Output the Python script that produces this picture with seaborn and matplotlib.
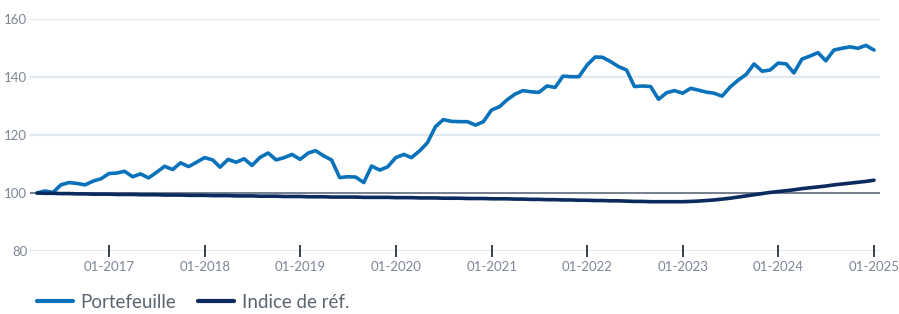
import matplotlib
matplotlib.use("Agg")
import matplotlib.pyplot as plt
import matplotlib.dates as mdates
import numpy as np
import pandas as pd
import seaborn as sns

# monthly values, Mar 2016 -> Dec 2024 (month ends)
dates = pd.date_range("2016-03-01", periods=106, freq="MS") + pd.offsets.MonthEnd(0)

portefeuille = [
    100.0, 100.7, 100.2, 102.8, 103.6, 103.3, 102.8, 104.1, 104.9, 106.7,
    106.9, 107.5, 105.6, 106.6, 105.2, 107.1, 109.2, 108.1, 110.4, 109.1,
    110.6, 112.2, 111.4, 108.9, 111.6, 110.6, 111.8, 109.5, 112.3, 113.8,
    111.4, 112.2, 113.3, 111.6, 113.8, 114.6, 112.8, 111.4, 105.3, 105.6,
    105.5, 103.6, 109.3, 107.9, 109.0, 112.2, 113.3, 112.2, 114.5, 117.3,
    122.9, 125.3, 124.7, 124.6, 124.6, 123.4, 124.6, 128.6, 129.8, 132.1,
    134.1, 135.3, 134.9, 134.7, 136.9, 136.4, 140.3, 140.1, 140.1, 144.1,
    146.9, 146.8, 145.3, 143.6, 142.4, 136.7, 136.9, 136.7, 132.3, 134.6,
    135.3, 134.4, 136.1, 135.5, 134.8, 134.4, 133.4, 136.5, 138.9, 140.9,
    144.5, 142.0, 142.4, 144.8, 144.5, 141.4, 146.2, 147.2, 148.4, 145.6,
    149.3, 149.9, 150.4, 149.9, 150.9, 149.3,
]

indice = [
    100.0, 99.9, 99.9, 99.8, 99.8, 99.7, 99.7, 99.6, 99.6, 99.6,
    99.5, 99.5, 99.5, 99.4, 99.4, 99.4, 99.3, 99.3, 99.3, 99.2, 99.2, 99.2,
    99.1, 99.1, 99.1, 99.0, 99.0, 99.0, 98.9, 98.9, 98.9, 98.8, 98.8, 98.8,
    98.7, 98.7, 98.7, 98.6, 98.6, 98.6, 98.6, 98.5, 98.5, 98.5, 98.5, 98.4,
    98.4, 98.4, 98.3, 98.3, 98.3, 98.2, 98.2, 98.2, 98.1, 98.1, 98.1, 98.0,
    98.0, 98.0, 97.9, 97.9, 97.8, 97.8, 97.7, 97.7, 97.6, 97.6, 97.5, 97.5,
    97.4, 97.4, 97.3, 97.3, 97.2, 97.1, 97.1, 97.0, 97.0, 97.0, 97.0, 97.0,
    97.1, 97.2, 97.4, 97.6, 97.9, 98.2, 98.6, 99.0, 99.4, 99.8, 100.2, 100.5,
    100.8, 101.1, 101.5, 101.8, 102.1, 102.4, 102.8, 103.1, 103.4, 103.7, 104.0, 104.4,
]

series_names = ["Portefeuille", "Indice de réf."]
colors = ["#0a72bb", "#0b2a5e"]
yticks = [80, 100, 120, 140, 160]
tick_years = list(range(2017, 2026))

df = pd.DataFrame({"date": list(dates) * 2,
                   "valeur": portefeuille + indice,
                   "serie": [series_names[0]] * len(dates) + [series_names[1]] * len(dates)})

sns.set_theme(style="white")
plt.rcParams["font.family"] = ["Lato", "DejaVu Sans"]

fig = plt.figure(figsize=(8.99, 3.14), dpi=100)
ax = fig.add_axes([30 / 899, (314 - 251) / 314, 850 / 899, 232 / 314])

for y in yticks:
    ax.axhline(y, color="#e0e8f0", lw=1.6, zorder=0)
ax.axhline(100, color="#6c7786", lw=1.3, zorder=1)

sns.lineplot(data=df, x="date", y="valeur", hue="serie", palette=colors,
             linewidth=2.6, ax=ax, legend=False, zorder=3)

ax.set_ylim(80, 160)
ax.set_xlim(pd.Timestamp("2016-03-04"), pd.Timestamp("2025-01-23"))
ax.set_yticks(yticks)
ax.set_xticks([pd.Timestamp(f"{y}-01-01") for y in tick_years])
ax.xaxis.set_major_formatter(mdates.DateFormatter("01-%Y"))
ax.set_xlabel("")
ax.set_ylabel("")
for s in ax.spines.values():
    s.set_visible(False)

ax.tick_params(axis="x", bottom=True, direction="inout", length=9, width=1.4,
               color="#3a4046", pad=3, labelsize=9.5, labelcolor="#7d8794")
ax.tick_params(axis="y", left=False, length=0, pad=2, labelsize=9.5, labelcolor="#7d8794")
for t in ax.xaxis.get_major_ticks():
    t.tick1line.set_clip_on(False)
    t.tick1line.set_zorder(5)

handles = [plt.Line2D([], [], color=c, lw=3) for c in colors]
fig.legend(handles, series_names, loc="center left", bbox_to_anchor=(37 / 899, (314 - 302) / 314),
           frameon=False, fontsize=13.5, handlelength=1.9, handletextpad=0.4,
           columnspacing=1.2, ncol=2, labelcolor="#5b6570", borderaxespad=0, borderpad=0)

fig.savefig("out.png", dpi=100)
